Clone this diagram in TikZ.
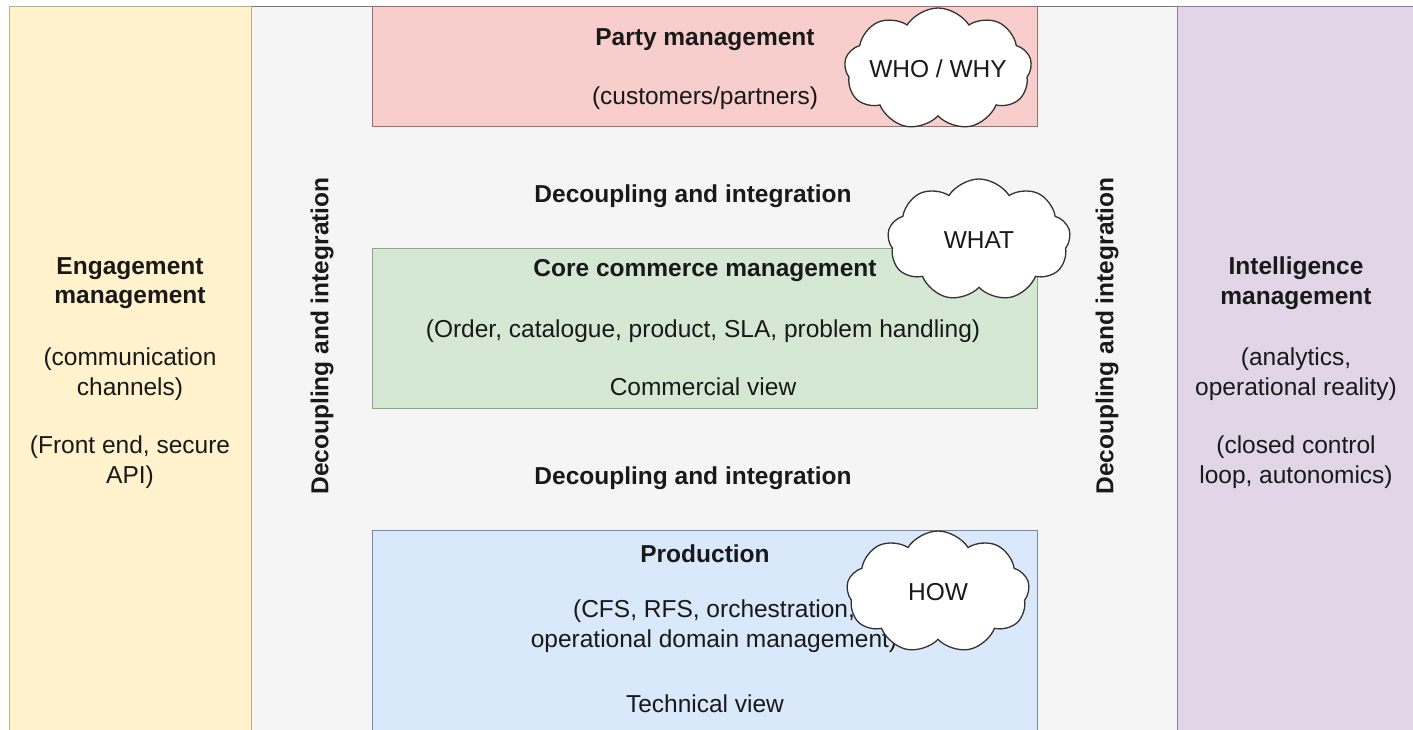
\documentclass[tikz,border=0pt]{standalone}
\usepackage{fontspec}
\setmainfont{Liberation Sans}
\usetikzlibrary{shapes.symbols}
\definecolor{greyfill}{HTML}{F5F5F5}
\definecolor{greyline}{HTML}{7A7A7A}
\definecolor{yellowfill}{HTML}{FFF2CC}
\definecolor{yellowline}{HTML}{B8AC80}
\definecolor{purplefill}{HTML}{E1D5E7}
\definecolor{purpleline}{HTML}{8E7A9E}
\definecolor{pinkfill}{HTML}{F8CECC}
\definecolor{pinkline}{HTML}{9E6E6C}
\definecolor{greenfill}{HTML}{D5E8D4}
\definecolor{greenline}{HTML}{8AA587}
\definecolor{bluefill}{HTML}{DAE8FC}
\definecolor{blueline}{HTML}{7489AA}
\definecolor{cloudline}{HTML}{333333}
\begin{document}
\begin{tikzpicture}[x=1pt, y=-1pt,
  panel/.style={draw, line width=1.3pt, inner sep=0pt, anchor=north west},
  txt/.style={align=center, text=black!90, inner sep=0pt, font=\fontsize{24.5}{29.5}\selectfont},
  head/.style={txt, font=\fontsize{24.5}{29.5}\selectfont\bfseries},
  bubble/.style={cloud, cloud puffs=9, cloud puff arc=115, cloud ignores aspect, draw=cloudline, fill=white,
    line width=1.3pt, minimum width=183pt, minimum height=122pt, txt}]
\useasboundingbox (0,0) rectangle (1413,729);
\fill[white] (0,0) rectangle (1413,729);
% outer columns
\node[panel, fill=greyfill, draw=greyline, minimum width=926pt, minimum height=740pt] (middle) at (251,6) {};
\node[panel, fill=yellowfill, draw=yellowline, minimum width=242pt, minimum height=740pt] (engage) at (9,6) {};
\node[panel, fill=purplefill, draw=purpleline, minimum width=245pt, minimum height=740pt] (intel) at (1177,6) {};
% inner layers
\node[panel, fill=pinkfill, draw=pinkline, minimum width=665pt, minimum height=120pt] (party) at (372,6) {};
\node[panel, fill=greenfill, draw=greenline, minimum width=665pt, minimum height=160pt] (core) at (372,248) {};
\node[panel, fill=bluefill, draw=blueline, minimum width=665pt, minimum height=220pt] (prod) at (372,530) {};
% side texts
\node[head] (engage title) at (130,283) {Engagement\\management};
\node[txt] (engage chan) at (130,374) {(communication\\channels)};
\node[txt] (engage api) at (130,462) {(Front end, secure\\API)};
\node[head] (intel title) at (1296,283) {Intelligence\\management};
\node[txt] (intel ana) at (1296,374) {(analytics,\\operational reality)};
\node[txt] (intel loop) at (1296,462) {(closed control\\loop, autonomics)};
% decoupling labels
\node[head, rotate=90] (dec left) at (322,336) {Decoupling and integration};
\node[head, rotate=90] (dec right) at (1107,336) {Decoupling and integration};
\node[head] (dec top) at (693,196) {Decoupling and integration};
\node[head] (dec bottom) at (693,478) {Decoupling and integration};
% layer texts
\node[head] (party title) at (705,40) {Party management};
\node[txt] (party sub) at (705,98) {(customers/partners)};
\node[head] (core title) at (705,271) {Core commerce management};
\node[txt] (core sub) at (703,331) {(Order, catalogue, product, SLA, problem handling)};
\node[txt] (core view) at (703,387) {Commercial view};
\node[head] (prod title) at (705,554) {Production};
\node[txt] (prod sub) at (714,626) {(CFS, RFS, orchestration,\\operational domain management)};
\node[txt] (prod view) at (705,704) {Technical view};
% clouds
\node[bubble] (who) at (938,69) {WHO / WHY};
\node[bubble] (what) at (979,240) {WHAT};
\node[bubble] (how) at (938,592) {HOW};
\end{tikzpicture}
\end{document}
